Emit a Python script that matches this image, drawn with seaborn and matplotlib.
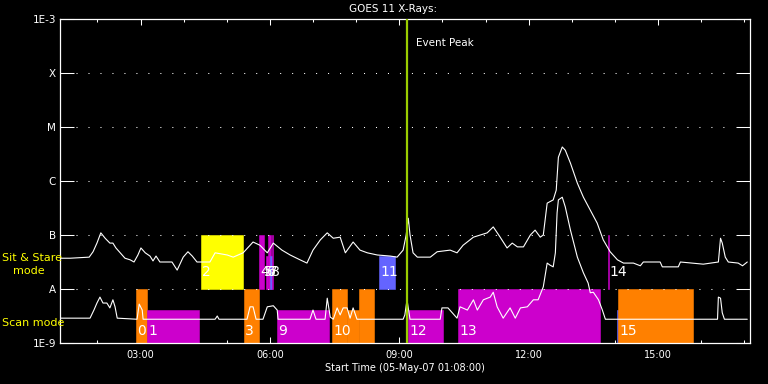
import numpy as np
import pandas as pd
import matplotlib
matplotlib.use("Agg")
import matplotlib.pyplot as plt
import matplotlib.ticker as mticker
import matplotlib.transforms as mtransforms
import seaborn as sns

# ---------------- data ----------------
T_START = 1 + 8 / 60.0          # 01:08:00
T_SPAN = 16.0                   # hours shown

# GOES long channel (hours since 00:00, log10 flux W/m^2)
long_t = [1.13, 1.37, 1.81, 1.90, 1.99, 2.08, 2.18, 2.29, 2.36, 2.43, 2.53, 2.64, 2.76, 2.85,
          2.94, 3.01, 3.11, 3.22, 3.29, 3.36, 3.45, 3.62, 3.73, 3.85, 3.99, 4.10, 4.20, 4.31,
          4.61, 4.73, 5.01, 5.15, 5.38, 5.61, 5.77, 5.94, 6.08, 6.28, 6.47, 6.70, 6.86, 7.00,
          7.17, 7.33, 7.47, 7.63, 7.75, 7.93, 8.09, 8.26, 8.49, 8.79, 8.95, 9.09, 9.16, 9.21,
          9.25, 9.32, 9.42, 9.72, 9.88, 10.18, 10.34, 10.48, 10.72, 11.04, 11.18, 11.34, 11.50,
          11.62, 11.74, 11.88, 12.04, 12.15, 12.27, 12.34, 12.43, 12.57, 12.64, 12.69, 12.78,
          12.85, 12.97, 13.13, 13.27, 13.43, 13.59, 13.73, 13.89, 14.06, 14.20, 14.43, 14.59,
          14.66, 15.05, 15.10, 15.47, 15.52, 16.05, 16.40, 16.45, 16.49, 16.56, 16.63, 16.86,
          16.96, 17.07]
long_logf = [-7.43, -7.43, -7.41, -7.31, -7.15, -6.96, -7.06, -7.15, -7.15, -7.24, -7.33, -7.43,
             -7.46, -7.50, -7.37, -7.24, -7.33, -7.39, -7.48, -7.39, -7.50, -7.50, -7.50, -7.65,
             -7.41, -7.31, -7.39, -7.50, -7.50, -7.33, -7.37, -7.41, -7.33, -7.13, -7.19, -7.33,
             -7.15, -7.28, -7.37, -7.46, -7.52, -7.28, -7.09, -6.96, -7.06, -7.04, -7.33, -7.13,
             -7.28, -7.33, -7.37, -7.39, -7.41, -7.28, -7.00, -6.69, -7.00, -7.33, -7.41, -7.41,
             -7.31, -7.28, -7.33, -7.19, -7.04, -6.96, -6.85, -7.04, -7.24, -7.15, -7.22, -7.22,
             -7.00, -6.91, -7.04, -7.00, -6.41, -6.35, -6.17, -5.56, -5.37, -5.43, -5.67, -6.04,
             -6.30, -6.54, -6.78, -7.09, -7.31, -7.46, -7.52, -7.52, -7.57, -7.50, -7.50, -7.59,
             -7.59, -7.50, -7.54, -7.50, -7.06, -7.15, -7.41, -7.50, -7.52, -7.57, -7.50]

# GOES short channel
short_t = [1.13, 1.83, 1.92, 1.99, 2.06, 2.13, 2.22, 2.29, 2.36, 2.41, 2.46, 2.92, 2.97, 3.04,
           3.06, 4.73, 4.78, 4.82, 5.47, 5.54, 5.61, 5.68, 5.84, 5.94, 6.08, 6.17, 6.19, 6.93,
           7.00, 7.07, 7.28, 7.33, 7.40, 7.47, 7.56, 7.63, 7.70, 7.79, 7.86, 7.93, 8.02, 9.09,
           9.13, 9.18, 9.25, 9.95, 9.99, 10.13, 10.34, 10.41, 10.58, 10.72, 10.81, 10.95, 11.11,
           11.18, 11.27, 11.41, 11.57, 11.69, 11.81, 11.97, 12.11, 12.22, 12.34, 12.43, 12.50,
           12.57, 12.62, 12.66, 12.69, 12.78, 12.85, 12.97, 13.13, 13.27, 13.38, 13.43, 13.50,
           13.62, 13.71, 13.78, 16.38, 16.40, 16.45, 16.49, 16.54, 17.07]
short_logf = [-8.54, -8.54, -8.39, -8.26, -8.15, -8.26, -8.26, -8.35, -8.20, -8.33, -8.54, -8.56,
              -8.28, -8.39, -8.56, -8.56, -8.50, -8.56, -8.56, -8.33, -8.33, -8.56, -8.56, -8.33,
              -8.31, -8.39, -8.56, -8.56, -8.39, -8.56, -8.56, -8.17, -8.52, -8.56, -8.35, -8.48,
              -8.35, -8.35, -8.54, -8.35, -8.56, -8.56, -8.48, -8.20, -8.56, -8.56, -8.35, -8.35,
              -8.54, -8.33, -8.39, -8.20, -8.39, -8.20, -8.15, -8.06, -8.33, -8.54, -8.35, -8.54,
              -8.35, -8.33, -8.20, -8.20, -7.96, -7.52, -7.56, -7.59, -7.33, -6.59, -6.35, -6.30,
              -6.48, -6.91, -7.41, -7.70, -7.89, -8.07, -8.06, -8.20, -8.39, -8.56, -8.56, -8.15,
              -8.17, -8.44, -8.56, -8.56]

# observation blocks: start / end (hours), band, top (log flux), kind
obs_start = [2.90, 3.15, 5.40, 6.17, 7.44, 7.79, 8.07, 9.21, 10.37, 14.06, 14.08,
             4.40, 5.75, 5.91, 5.96, 6.01, 6.05, 8.53, 13.85]
obs_end = [3.15, 4.36, 5.75, 7.37, 7.79, 8.07, 8.42, 10.02, 13.66, 14.08, 15.82,
           5.38, 5.87, 5.96, 6.03, 6.05, 6.08, 8.91, 13.87]
obs_band = ["scan"] * 11 + ["stare"] * 8
obs_top = [-8.00, -8.39, -8.00, -8.39, -8.00, -8.39, -8.00, -8.39, -8.00, -8.39, -8.00,
           -7.00, -7.00, -7.39, -7.00, -7.39, -7.00, -7.39, -7.00]
obs_kind = ["type1", "type2", "type1", "type2", "type1", "type1", "type1", "type2", "type2",
            "type4", "type1",
            "type3", "type2", "type2", "type2", "type4", "type2", "type4", "type2"]

# event numbers
event_ids = ["0", "1", "2", "3", "4", "5", "6", "7", "8", "9", "10", "11", "12", "13", "14", "15"]
event_t = [2.90, 3.15, 4.40, 5.40, 5.75, 5.84, 5.91, 5.96, 6.01, 6.17, 7.44, 8.53, 9.21,
           10.37, 13.85, 14.08]
event_band = ["scan", "scan", "stare", "scan", "stare", "stare", "stare", "stare", "stare",
              "scan", "scan", "stare", "scan", "scan", "stare", "scan"]

peak_t = 9.18

band_bottom = {"scan": -9.0, "stare": -8.0}
band_label_y = {"scan": -8.78, "stare": -7.69}
kind_color = {"type1": "#ff8000", "type2": "#cc00cc", "type3": "#ffff00", "type4": "#6464ff"}

y_ticks = [1e-9, 1e-8, 1e-7, 1e-6, 1e-5, 1e-4, 1e-3]
y_ticklabels = ["1E-9", "A", "B", "C", "M", "X", "1E-3"]
x_major = [3, 6, 9, 12, 15]
x_ticklabels = ["03:00", "06:00", "09:00", "12:00", "15:00"]

# ---------------- style ----------------
sns.set_theme(style="ticks")
plt.rcParams["font.family"] = ["DejaVu Sans"]
plt.rcParams.update({
    "figure.facecolor": "black", "axes.facecolor": "black",
    "axes.edgecolor": "white", "text.color": "white",
    "xtick.color": "white", "ytick.color": "white",
    "axes.labelcolor": "white",
})

fig = plt.figure(figsize=(7.68, 3.84), dpi=100)
ax = fig.add_axes([60 / 768, 41 / 384, 690 / 768, 324 / 384])
ax.set_facecolor("black")
ax.set_yscale("log")
ax.set_xlim(T_START, T_START + T_SPAN)
ax.set_ylim(1e-9, 1e-3)

# observation blocks
for s, e, b, top, k in zip(obs_start, obs_end, obs_band, obs_top, obs_kind):
    bot = 10 ** band_bottom[b]
    c = kind_color[k]
    ax.bar(s, 10 ** top - bot, width=e - s, bottom=bot, align="edge",
           color=c, edgecolor=c, linewidth=0.4, zorder=2)

# dotted class lines
for v in y_ticks[1:-1]:
    ax.axhline(v, xmin=16 / 690, xmax=673 / 690, color="white", lw=0.75,
               linestyle=(0, (1, 10.5)), zorder=3)

# GOES curves
df_long = pd.DataFrame({"t": long_t, "flux": 10 ** np.array(long_logf)})
df_short = pd.DataFrame({"t": short_t, "flux": 10 ** np.array(short_logf)})
sns.lineplot(data=df_long, x="t", y="flux", color="white", lw=0.8, ax=ax,
             estimator=None, zorder=4)
sns.lineplot(data=df_short, x="t", y="flux", color="white", lw=0.8, ax=ax,
             estimator=None, zorder=4)

# event peak
ax.axvline(peak_t, color="#9acd00", lw=1.6, zorder=5)
trans = mtransforms.blended_transform_factory(ax.transData, ax.transAxes)
ax.text(peak_t + 0.2, 0.926, "Event Peak", transform=trans, fontsize=7.5,
        color="white", va="center", ha="left", zorder=6)

# event numbers
off = mtransforms.ScaledTranslation(1 / 100, 0, fig.dpi_scale_trans)
for lab, t, b in zip(event_ids, event_t, event_band):
    ax.text(t, 10 ** band_label_y[b], lab, fontsize=10, color="white",
            ha="left", va="center", transform=ax.transData + off, zorder=6)

# axes formatting
ax.set_yticks(y_ticks)
ax.set_yticklabels(y_ticklabels)
ax.yaxis.set_minor_locator(mticker.NullLocator())
ax.set_xticks(x_major)
ax.set_xticklabels(x_ticklabels)
ax.xaxis.set_minor_locator(mticker.MultipleLocator(1))
ax.tick_params(axis="y", which="major", direction="in", length=10, width=0.75,
               left=True, right=True, labelsize=7.5, pad=3, colors="white")
ax.tick_params(axis="x", which="major", direction="in", length=4.3, width=0.75,
               top=True, bottom=True, labelsize=7, pad=5, colors="white")
ax.tick_params(axis="x", which="minor", direction="in", length=2.2, width=0.75,
               top=True, bottom=True, colors="white")
for sp in ax.spines.values():
    sp.set_color("white")
    sp.set_linewidth(0.9)
ax.set_xlabel("")
ax.set_ylabel("")

fig.text(393 / 768, 1 - 9 / 384, "GOES 11 X-Rays:", ha="center", va="center",
         fontsize=7.5, color="white")
fig.text(405 / 768, 1 - 368 / 384, "Start Time (05-May-07 01:08:00)", ha="center",
         va="center", fontsize=7, color="white")
fig.text(2 / 768, 1 - 258 / 384, "Sit & Stare", ha="left", va="center",
         fontsize=8, color="#ffff00")
fig.text(13 / 768, 1 - 271 / 384, "mode", ha="left", va="center",
         fontsize=8, color="#ffff00")
fig.text(2 / 768, 1 - 323 / 384, "Scan mode", ha="left", va="center",
         fontsize=8, color="#ffff00")

fig.savefig("out.png", dpi=100, facecolor="black")
